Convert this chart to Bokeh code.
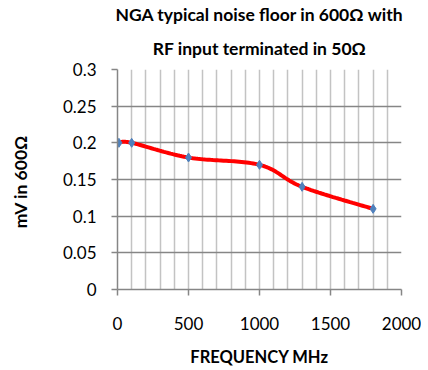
import numpy as np
from bokeh.plotting import figure
from bokeh.models import Title, FixedTicker, Range1d
from bokeh.embed import file_html
from bokeh.resources import INLINE

freq_mhz = [10, 100, 500, 1000, 1300, 1800]
noise_mv = [0.20, 0.20, 0.18, 0.17, 0.14, 0.11]
x_ticks = [0, 500, 1000, 1500, 2000]
y_ticks = [0, 0.05, 0.1, 0.15, 0.2, 0.25, 0.3]
x_minor_grid = list(range(0, 2001, 100))
title_lines = ["NGA typical noise floor in 600Ω with", "RF input terminated in 50Ω"]


def catmull_rom(xs, ys, n=30):
    pts = np.column_stack([xs, ys]).astype(float)
    P = np.vstack([pts[0], pts, pts[-1]])
    out = []
    for i in range(1, len(P) - 2):
        p0, p1, p2, p3 = P[i - 1], P[i], P[i + 1], P[i + 2]
        t = np.linspace(0, 1, n)[:, None]
        seg = 0.5 * ((2 * p1) + (-p0 + p2) * t + (2 * p0 - 5 * p1 + 4 * p2 - p3) * t ** 2
                     + (-p0 + 3 * p1 - 3 * p2 + p3) * t ** 3)
        out.append(seg)
    c = np.vstack(out)
    return c[:, 0], c[:, 1]


FONT = "Lato"
AX = "#868686"

p = figure(frame_width=284, frame_height=220, output_backend="svg", toolbar_location=None,
           x_range=Range1d(0, 2000), y_range=Range1d(0, 0.3),
           min_border_left=117, min_border_right=20, min_border_top=69, min_border_bottom=80)
p.outline_line_color = None
p.background_fill_color = "white"
p.border_fill_color = "white"

# title: two centred lines (bottom line added first)
p.add_layout(Title(text=title_lines[1], align="center", text_font=FONT,
                   text_font_size="17.5px", text_font_style="bold", text_color="#000000",
                   standoff=22), "above")
p.add_layout(Title(text=title_lines[0], align="center", text_font=FONT,
                   text_font_size="17.5px", text_font_style="bold", text_color="#000000",
                   standoff=0), "above")

# grids
p.xgrid.ticker = FixedTicker(ticks=x_minor_grid)
p.xgrid.grid_line_color = "#c3c3c3"
p.xgrid.grid_line_width = 1.5
p.ygrid.ticker = FixedTicker(ticks=y_ticks)
p.ygrid.grid_line_color = AX
p.ygrid.grid_line_width = 1.5

# axes
for ax in (p.xaxis[0], p.yaxis[0]):
    ax.axis_line_color = AX
    ax.axis_line_width = 1.5
    ax.major_tick_line_color = AX
    ax.major_tick_line_width = 1.5
    ax.major_tick_out = 6
    ax.major_tick_in = 0
    ax.minor_tick_line_color = None
    ax.major_label_text_font = FONT
    ax.major_label_text_font_size = "17px"
    ax.major_label_text_color = "#000000"
    ax.axis_label_text_font = FONT
    ax.axis_label_text_font_style = "bold"
    ax.axis_label_text_color = "#000000"

p.xaxis.axis_label_text_font_size = "16.5px"
p.yaxis.axis_label_text_font_size = "17.5px"
p.xaxis.ticker = FixedTicker(ticks=x_ticks)
p.yaxis.ticker = FixedTicker(ticks=y_ticks)
p.xaxis.major_label_standoff = 21
p.yaxis.major_label_standoff = 15
p.xaxis.axis_label = "FREQUENCY MHz"
p.xaxis.axis_label_standoff = 14
p.yaxis.axis_label = "mV in  600Ω"
p.yaxis.axis_label_standoff = 29

sx, sy = catmull_rom(freq_mhz, noise_mv)
p.line(sx, sy, line_color="#ff0000", line_width=4)
p.scatter(freq_mhz, noise_mv, marker="diamond", size=9, fill_color="#4f81bd",
          line_color="#4f81bd")

html = file_html(p, INLINE)
open("out.html", "w").write(html)
